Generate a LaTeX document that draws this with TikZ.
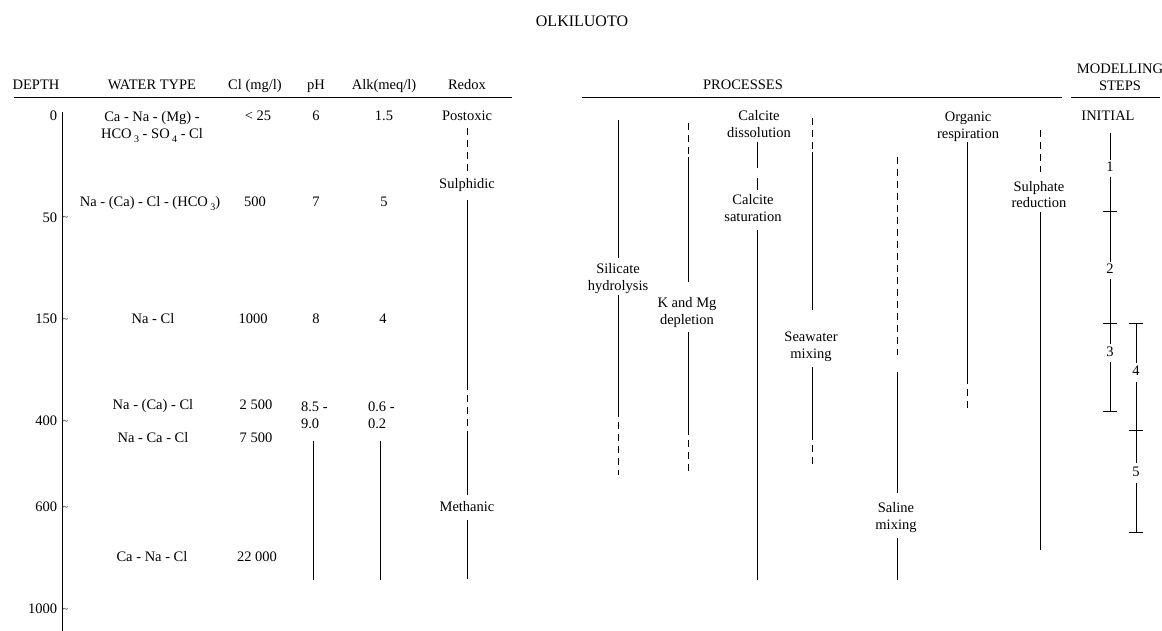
\documentclass[tikz,border=0pt]{standalone}
\usepackage{fontspec}
\setmainfont{Liberation Serif}
% lowered chemical index, set slightly apart from its symbol
\newcommand\chemidx[1]{\,\raisebox{-0.55ex}{\fontsize{10}{10}\selectfont #1}}
\begin{document}
\begin{tikzpicture}[x=1pt,y=-1pt,
  every node/.style={font=\fontsize{14.5}{17}\selectfont, inner sep=0pt, outer sep=0pt,
                     text height=10pt, text depth=3pt, align=center},
  twoline/.style={text height=27pt},
  rule/.style={line width=0.9pt},
  vline/.style={line width=0.8pt},
  dline/.style={line width=0.8pt, dash pattern=on 7pt off 5pt},
  tickmark/.style={line width=0.8pt},
  depthlbl/.style={anchor=east},
  wavy/.style={anchor=west, font=\fontsize{10}{10}\selectfont, text height=4pt, text depth=0pt},
]
\path[use as bounding box] (0,0) rectangle (1162,631);

% ---------- title and column heads ----------
\node[font=\fontsize{16}{19}\selectfont, text height=12pt] (title) at (582,22) {OLKILUOTO};

\node (hDepth) at (36,86) {DEPTH};
\node (hWater) at (152,86) {WATER TYPE};
\node (hCl) at (255,86) {Cl (mg/l)};
\node (hPH) at (316,86) {pH};
\node (hAlk) at (384,86) {Alk(meq/l)};
\node (hRedox) at (467,86) {Redox};
\node (hProc) at (743,86) {PROCESSES};
\node[twoline] (hSteps) at (1120,79) {MODELLING\\STEPS};

\coordinate (ruleA0) at (14,97);   \coordinate (ruleA1) at (512,97);
\coordinate (ruleB0) at (582,97);  \coordinate (ruleB1) at (1062,97);
\coordinate (ruleC0) at (1071,97); \coordinate (ruleC1) at (1160,97);
\draw[rule] (ruleA0) -- (ruleA1);
\draw[rule] (ruleB0) -- (ruleB1);
\draw[rule] (ruleC0) -- (ruleC1);

% ---------- depth axis ----------
\coordinate (axTop) at (62,112);
\coordinate (axBot) at (62,631);
\draw[vline] (axTop) -- (axBot);

\node[depthlbl] (d0)    at (57,117) {0};
\node[depthlbl] (d50)   at (57,219) {50};
\node[depthlbl] (d150)  at (57,320) {150};
\node[depthlbl] (d400)  at (57,422) {400};
\node[depthlbl] (d600)  at (57,508) {600};
\node[depthlbl] (d1000) at (57,610) {1000};
\foreach \y/\n in {219/50,320/150,422/400,508/600,610/1000}
  \node[wavy] (tk\n) at (62.5,\y) {\textasciitilde};

% ---------- water type ----------
\node[twoline] (w1) at (152,127) {Ca - Na - (Mg) -\\HCO\chemidx{3} - SO\chemidx{4} - Cl};
\node (w2) at (150,203) {Na - (Ca) - Cl - (HCO\chemidx{3})};
\node (w3) at (153,320) {Na - Cl};
\node (w4) at (153,406) {Na - (Ca) - Cl};
\node (w5) at (153,439) {Na - Ca - Cl};
\node (w6) at (152,558) {Ca - Na - Cl};

% ---------- chloride ----------
\node (c1) at (258,117) {< 25};
\node (c2) at (255,203) {500};
\node (c3) at (253,320) {1000};
\node (c4) at (256,406) {2 500};
\node (c5) at (256,439) {7 500};
\node (c6) at (257,558) {22 000};

% ---------- pH ----------
\node (p1) at (316,117) {6};
\node (p2) at (316,203) {7};
\node (p3) at (316,320) {8};
\node[twoline, anchor=west, align=left] (p4) at (301,416) {8.5 -\\9.0};
\coordinate (pLine0) at (313,441);
\coordinate (pLine1) at (313,580);
\draw[vline] (pLine0) -- (pLine1);

% ---------- alkalinity ----------
\node (a1) at (384,117) {1.5};
\node (a2) at (384,203) {5};
\node (a3) at (383,320) {4};
\node[twoline, anchor=west, align=left] (a4) at (368,416) {0.6 -\\0.2};
\coordinate (aLine0) at (380,441);
\coordinate (aLine1) at (380,580);
\draw[vline] (aLine0) -- (aLine1);

% ---------- redox ----------
\node (rPost) at (467,117) {Postoxic};
\node (rSulf) at (467,185) {Sulphidic};
\node (rMeth) at (467,508) {Methanic};
\coordinate (rx1) at (467,128);
\coordinate (rx2) at (467,172);
\coordinate (rx3) at (467,200);
\coordinate (rx4) at (467,383);
\coordinate (rx5) at (467,436);
\coordinate (rx6) at (467,495);
\coordinate (rx7) at (467,520);
\coordinate (rx8) at (467,579);
\draw[dline] (rx1) -- (rx2);
\draw[vline] (rx3) -- (rx4);
\draw[dline] (rx4) -- (rx5);
\draw[vline] (rx5) -- (rx6);
\draw[vline] (rx7) -- (rx8);

% ---------- processes ----------
% silicate hydrolysis
\node[twoline] (sil) at (618,278) {Silicate\\hydrolysis};
\coordinate (sil0) at (618,120);
\coordinate (sil1) at (618,258);
\coordinate (sil2) at (618,295);
\coordinate (sil3) at (618,410);
\coordinate (sil4) at (618,475);
\draw[vline] (sil0) -- (sil1);
\draw[vline] (sil2) -- (sil3);
\draw[dline] (sil3) -- (sil4);

% K and Mg depletion
\node[twoline] (kmg) at (687,312) {K and Mg\\depletion};
\coordinate (kmg0) at (688,123);
\coordinate (kmg1) at (688,157);
\coordinate (kmg2) at (688,282);
\coordinate (kmg3) at (688,332);
\coordinate (kmg4) at (688,428);
\coordinate (kmg5) at (688,475);
\draw[dline] (kmg0) -- (kmg1);
\draw[vline] (kmg1) -- (kmg2);
\draw[vline] (kmg3) -- (kmg4);
\draw[dline] (kmg4) -- (kmg5);

% calcite dissolution / saturation
\node[twoline] (cdis) at (759,126) {Calcite\\dissolution};
\node[twoline] (csat) at (753,210) {Calcite\\saturation};
\coordinate (cal0) at (757,142);
\coordinate (cal1) at (757,168);
\coordinate (cal2) at (757,178);
\coordinate (cal3) at (757,190);
\coordinate (cal4) at (757,230);
\coordinate (cal5) at (757,580);
\draw[vline] (cal0) -- (cal1);
\draw[vline] (cal2) -- (cal3);
\draw[vline] (cal4) -- (cal5);

% seawater mixing
\node[twoline] (sea) at (811,346) {Seawater\\mixing};
\coordinate (sea0) at (812,118);
\coordinate (sea1) at (812,152);
\coordinate (sea2) at (812,310);
\coordinate (sea3) at (812,367);
\coordinate (sea4) at (812,433);
\coordinate (sea5) at (812,467);
\draw[dline] (sea0) -- (sea1);
\draw[vline] (sea1) -- (sea2);
\draw[vline] (sea3) -- (sea4);
\draw[dline] (sea4) -- (sea5);

% saline mixing
\node[twoline] (sal) at (896,517) {Saline\\mixing};
\coordinate (sal0) at (897,157);
\coordinate (sal1) at (897,355);
\coordinate (sal2) at (897,372);
\coordinate (sal3) at (897,493);
\coordinate (sal4) at (897,538);
\coordinate (sal5) at (897,580);
\draw[dline] (sal0) -- (sal1);
\draw[vline] (sal2) -- (sal3);
\draw[vline] (sal4) -- (sal5);

% organic respiration
\node[twoline] (org) at (968,127) {Organic\\respiration};
\coordinate (org0) at (967,142);
\coordinate (org1) at (967,377);
\coordinate (org2) at (967,412);
\draw[vline] (org0) -- (org1);
\draw[dline] (org1) -- (org2);

% sulphate reduction
\node[twoline] (sred) at (1039,196) {Sulphate\\reduction};
\coordinate (sred0) at (1040,130);
\coordinate (sred1) at (1040,172);
\coordinate (sred2) at (1040,212);
\coordinate (sred3) at (1040,550);
\draw[dline] (sred0) -- (sred1);
\draw[vline] (sred2) -- (sred3);

% ---------- modelling steps ----------
\node (init) at (1108,117) {INITIAL};
\node (st1) at (1110,168) {1};
\node (st2) at (1110,270) {2};
\node (st3) at (1110,353) {3};
\node (st4) at (1136,372) {4};
\node (st5) at (1136,473) {5};

\coordinate (m0)  at (1110,133);
\coordinate (m1)  at (1110,160);
\coordinate (m2)  at (1110,177);
\coordinate (m3)  at (1110,211);
\coordinate (m4)  at (1110,262);
\coordinate (m5)  at (1110,279);
\coordinate (m6)  at (1110,323);
\coordinate (m7)  at (1110,344);
\coordinate (m8)  at (1110,362);
\coordinate (m9)  at (1110,411);
\draw[vline] (m0) -- (m1);
\draw[vline] (m2) -- (m4);
\draw[vline] (m5) -- (m7);
\draw[vline] (m8) -- (m9);
\foreach \c in {m3,m6,m9}
  \draw[tickmark] ([xshift=-7pt]\c) -- ([xshift=7pt]\c);

\coordinate (n0) at (1136,323);
\coordinate (n1) at (1136,363);
\coordinate (n2) at (1136,382);
\coordinate (n3) at (1136,430);
\coordinate (n4) at (1136,463);
\coordinate (n5) at (1136,483);
\coordinate (n6) at (1136,532);
\draw[vline] (n0) -- (n1);
\draw[vline] (n2) -- (n4);
\draw[vline] (n5) -- (n6);
\foreach \c in {n0,n3,n6}
  \draw[tickmark] ([xshift=-7pt]\c) -- ([xshift=7pt]\c);
\end{tikzpicture}
\end{document}
